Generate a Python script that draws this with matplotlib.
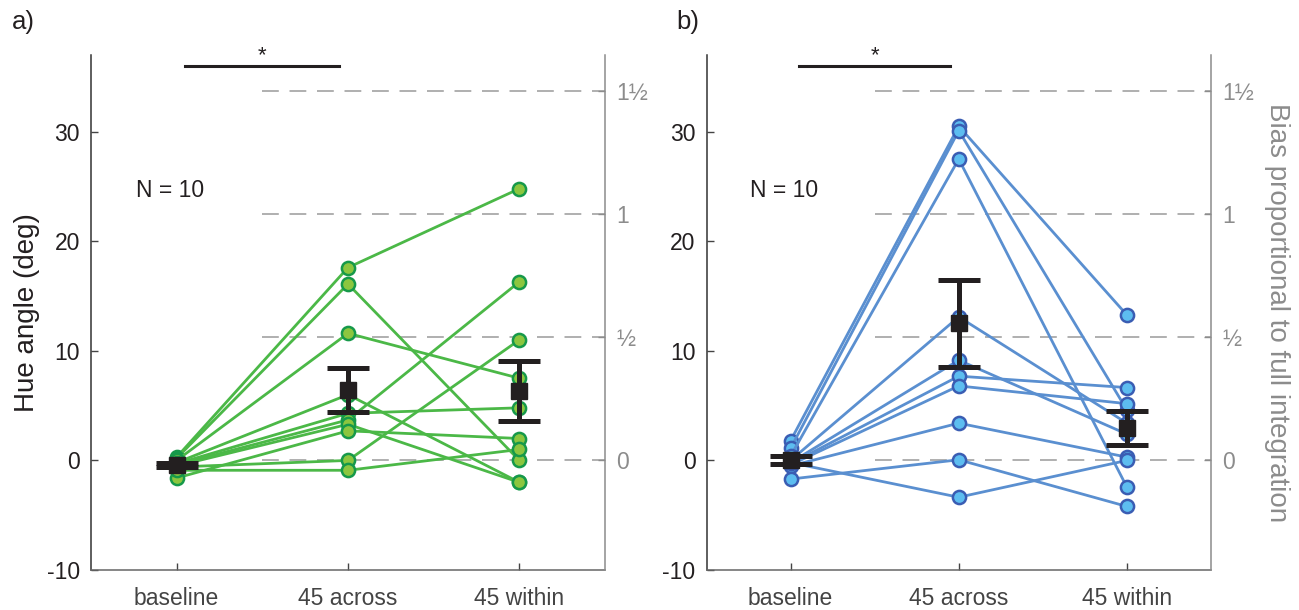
import matplotlib
matplotlib.use("Agg")
import matplotlib.pyplot as plt
import numpy as np

plt.rcParams['font.family'] = ['Liberation Sans', 'DejaVu Sans']

conditions = ["baseline", "45 across", "45 within"]

# Panel a: per-subject hue angle (deg) for baseline, 45 across, 45 within
a_baseline = [0.3, 0.2, 0.0, -0.2, -0.3, -0.4, -0.5, -1.6, -0.6, -0.9]
a_across = [17.6, 16.1, 11.6, 6.0, 4.3, 3.7, 3.3, 2.7, 0.0, -0.9]
a_within = [24.8, 0.0, 7.5, -2.0, 4.8, 16.3, -2.0, 2.0, 11.0, 1.0]
a_mean = [-0.4, 6.45, 6.35]
a_sem = [0.2, 2.03, 2.75]

# Panel b
b_baseline = [1.8, 1.1, 0.4, 0.0, -0.2, -0.3, -0.4, -0.5, -1.7, -0.2]
b_across = [30.5, 30.1, 27.5, 13.1, 9.15, 7.69, 6.8, 3.4, 0.06, -3.36]
b_within = [13.27, 4.6, -2.44, 3.4, 2.4, 6.65, 5.18, 0.3, -4.2, 0.0]
b_mean = [0.0, 12.5, 2.92]
b_sem = [0.37, 3.93, 1.55]

full_integration = 22.5  # deg corresponding to bias of 1
right_tick_fracs = [0, 0.5, 1, 1.5]
right_tick_labels = ["0", "½", "1", "1½"]
n_label = "N = 10"

W, H = 1299, 610
fig = plt.figure(figsize=(W / 100, H / 100), dpi=100)

panels = [
    dict(rect=[91 / W, 40 / H, (605 - 91) / W, (570 - 55) / H], letter="a)", letter_x=12 / W,
         base=a_baseline, across=a_across, within=a_within, mean=a_mean, sem=a_sem,
         line="#4bb847", face="#8cc63f", edge="#16994a", rlabel=False),
    dict(rect=[706.5 / W, 40 / H, (1211 - 706.5) / W, (570 - 55) / H], letter="b)", letter_x=676 / W,
         base=b_baseline, across=b_across, within=b_within, mean=b_mean, sem=b_sem,
         line="#5a8fd0", face="#5dbdf0", edge="#3a5db3", rlabel=True),
]

xpos = np.arange(1, 4)
dark = "#231f20"
grey = "#8c8c8c"

for p in panels:
    ax = fig.add_axes(p["rect"])
    ax.set_xlim(0.5, 3.5)
    ax.set_ylim(-10, 37)

    # dashed reference lines
    for f in right_tick_fracs:
        ax.plot([1.5, 3.5], [f * full_integration] * 2, color="#9a9a9a", lw=1.1,
                linestyle=(0, (11, 7)), zorder=1)

    for b, c, w in zip(p["base"], p["across"], p["within"]):
        ax.plot(xpos, [b, c, w], '-o', color=p["line"], lw=2.0, markersize=9.5,
                markerfacecolor=p["face"], markeredgecolor=p["edge"], markeredgewidth=1.8,
                zorder=3)

    ax.errorbar(xpos, p["mean"], yerr=p["sem"], fmt='s', color=dark, ecolor=dark,
                elinewidth=3.6, capsize=15, capthick=3.6, markersize=11.5, zorder=5)

    # significance bar
    ax.plot([1.05, 1.95], [36, 36], color=dark, lw=2.2, clip_on=False, zorder=6)
    ax.text(1.5, 36.9, "*", ha="center", va="center", fontsize=16, color=dark,
            clip_on=False)

    ax.text(0.76, 24.6, n_label, ha="left", va="center", fontsize=16.5, color=dark)

    ax.set_xticks(xpos)
    ax.set_xticklabels(conditions, fontsize=16.5, color="#444444")
    ax.set_yticks([-10, 0, 10, 20, 30])
    ax.set_yticklabels(["-10", "0", "10", "20", "30"], fontsize=16.5, color=dark)
    ax.tick_params(axis='both', direction='in', length=5, width=1, colors="#444444",
                   labelcolor=dark)
    ax.tick_params(axis='x', labelcolor="#444444", pad=12)
    ax.tick_params(axis='y', pad=8)
    ax.spines['top'].set_visible(False)
    ax.spines['right'].set_visible(False)
    ax.spines['left'].set_color("#333333")
    ax.spines['bottom'].set_color("#666666")
    for s in ax.spines.values():
        s.set_linewidth(1.1)

    if not p["rlabel"]:
        ax.set_ylabel("Hue angle (deg)", fontsize=20, color=dark, labelpad=5)

    ax2 = ax.twinx()
    ax2.set_ylim(-10, 37)
    ax2.set_yticks([f * full_integration for f in right_tick_fracs])
    ax2.set_yticklabels(right_tick_labels, fontsize=16.5, color=grey)
    ax2.tick_params(axis='y', direction='in', length=5, width=1, colors=grey,
                    labelcolor=grey, pad=8)
    for s in ['top', 'left', 'bottom']:
        ax2.spines[s].set_visible(False)
    ax2.spines['right'].set_color(grey)
    ax2.spines['right'].set_linewidth(1.1)
    if p["rlabel"]:
        ax2.set_ylabel("Bias proportional to full integration", fontsize=20, color=grey,
                       rotation=270, labelpad=26)

    fig.text(p["letter_x"], 1 - 22 / H, p["letter"], ha="left", va="center", fontsize=18.5,
             color=dark)

fig.savefig("out.png", dpi=100)
